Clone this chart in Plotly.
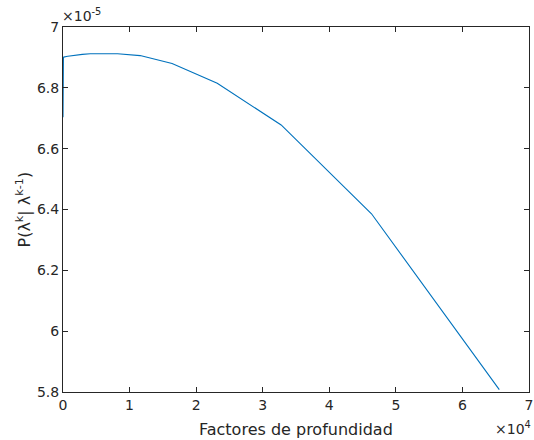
import plotly.graph_objects as go

# Depth factors (2^(k/2), k = 0..32) and the resulting probability
depth_factors = [
    1, 1.414, 2, 2.828, 4, 5.657, 8, 11.31, 16, 22.63, 32, 45.25, 64, 90.51,
    128, 181.0, 256, 362.0, 512, 724.1, 1024, 1448, 2048, 2896, 4096, 5793,
    8192, 11585, 16384, 23170, 32768, 46341, 65536,
]
probability = [
    6.703e-5, 6.780e-5, 6.830e-5, 6.860e-5, 6.875e-5, 6.885e-5, 6.890e-5,
    6.893e-5, 6.895e-5, 6.897e-5, 6.898e-5, 6.899e-5, 6.900e-5, 6.900e-5,
    6.901e-5, 6.901e-5, 6.902e-5, 6.902e-5, 6.903e-5, 6.904e-5, 6.905e-5,
    6.906e-5, 6.908e-5, 6.910e-5, 6.912e-5, 6.913e-5, 6.912e-5, 6.906e-5,
    6.880e-5, 6.815e-5, 6.678e-5, 6.386e-5, 5.808e-5,
]

x_tickvals = [0, 10000, 20000, 30000, 40000, 50000, 60000, 70000]
x_ticktext = ["0", "1", "2", "3", "4", "5", "6", "7"]
y_tickvals = [5.8e-5, 6.0e-5, 6.2e-5, 6.4e-5, 6.6e-5, 6.8e-5, 7.0e-5]
y_ticktext = ["5.8", "6", "6.2", "6.4", "6.6", "6.8", "7"]

x_label = "Factores de profundidad"
y_label = "P(λ<sup>k</sup>| λ<sup>k-1</sup>)"

axis_color = "#262626"
font_family = "DejaVu Sans"
tick_size = 14
label_size = 16

fig = go.Figure()
fig.add_trace(go.Scatter(
    x=depth_factors, y=probability, mode="lines",
    line=dict(color="#0072BD", width=1.1),
    showlegend=False, hoverinfo="skip",
))

axis_common = dict(
    showline=True, linecolor=axis_color, linewidth=1, mirror="ticks",
    ticks="inside", ticklen=5, tickwidth=1, tickcolor=axis_color,
    showgrid=False, zeroline=False, ticklabeloverflow="allow",
    tickfont=dict(family=font_family, size=tick_size, color=axis_color),
)

label_font = dict(family=font_family, size=label_size, color=axis_color)
exp_font = dict(family=font_family, size=14, color=axis_color)

fig.update_layout(
    width=534, height=440,
    margin=dict(l=63, r=1, t=27, b=48),
    paper_bgcolor="white", plot_bgcolor="white",
    font=dict(family=font_family, color=axis_color),
    xaxis=dict(range=[0, 70000], tickmode="array",
               tickvals=x_tickvals, ticktext=x_ticktext, **axis_common),
    yaxis=dict(range=[5.8e-5, 7.0e-5], tickmode="array",
               tickvals=y_tickvals, ticktext=y_ticktext, **axis_common),
    annotations=[
        # axis titles
        dict(text=x_label, xref="paper", yref="paper", x=0.5, y=0,
             xanchor="center", yanchor="middle", yshift=-37,
             showarrow=False, font=label_font),
        dict(text=y_label, xref="paper", yref="paper", x=0, y=0.5,
             xanchor="center", yanchor="middle", xshift=-39,
             textangle=-90, showarrow=False, font=label_font),
        # axis exponent labels
        dict(text="×10<sup>-5</sup>", xref="paper", yref="paper",
             x=0, y=1, xanchor="left", yanchor="bottom", showarrow=False,
             font=exp_font, xshift=-3, yshift=1),
        dict(text="×10<sup>4</sup>", xref="paper", yref="paper",
             x=1, y=0, xanchor="right", yanchor="top", showarrow=False,
             font=exp_font, xshift=4, yshift=-25),
    ],
)

fig.write_html("out.html")
